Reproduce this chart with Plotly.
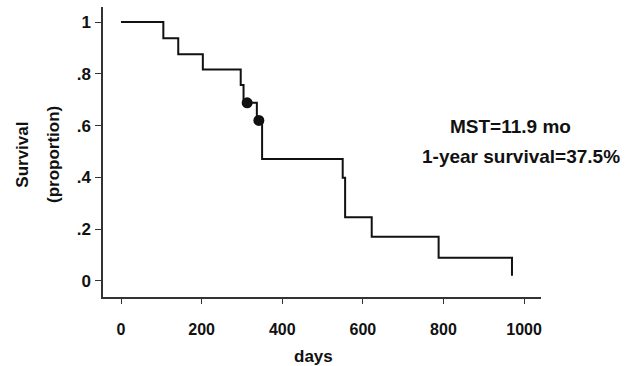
import plotly.graph_objects as go

# Kaplan-Meier step data (days, survival proportion)
times = [0, 105, 142, 203, 297, 304, 337, 350, 550, 556, 622, 788, 970]
survival = [1.0, 0.937, 0.876, 0.817, 0.757, 0.688, 0.62, 0.471, 0.399, 0.246, 0.171, 0.09, 0.02]

# censored observations
censor_times = [313, 342]
censor_surv = [0.688, 0.62]

x_ticks = [0, 200, 400, 600, 800, 1000]
x_ticktext = ["0", "200", "400", "600", "800", "1000"]
y_ticks = [0, 0.2, 0.4, 0.6, 0.8, 1.0]
y_ticktext = ["0", ".2", ".4", ".6", ".8", "1"]

FONT = "Liberation Sans, Arial, Helvetica, sans-serif"
INK = "#111111"

fig = go.Figure()
fig.add_trace(go.Scatter(
    x=times, y=survival, mode="lines", line_shape="hv",
    line=dict(color=INK, width=2), showlegend=False, hoverinfo="skip"))
fig.add_trace(go.Scatter(
    x=censor_times, y=censor_surv, mode="markers",
    marker=dict(color=INK, size=11), showlegend=False))

fig.update_layout(
    width=636, height=366,
    margin=dict(l=103, r=95, t=7, b=69),
    paper_bgcolor="white", plot_bgcolor="white",
    font=dict(family=FONT, color=INK),
    xaxis=dict(range=[-44.7, 1042], tickvals=x_ticks, ticktext=x_ticktext,
               showgrid=False, zeroline=False, showline=True, linecolor="#333",
               linewidth=1.5, ticks="outside", ticklen=5, tickcolor="#333",
               tickfont=dict(size=16, weight="bold", family=FONT, color=INK),
               ticklabelstandoff=12),
    yaxis=dict(range=[-0.062, 1.058], tickvals=y_ticks, ticktext=y_ticktext,
               showgrid=False, zeroline=False, showline=True, linecolor="#333",
               linewidth=1.5, ticks="outside", ticklen=6, tickcolor="#333",
               tickfont=dict(size=17, weight="bold", family=FONT, color=INK),
               ticklabelstandoff=1),
)

ann_font = dict(family=FONT, size=17, weight="bold", color=INK)
fig.add_annotation(text="Survival", xref="paper", yref="paper",
                   x=(21.7 - 103) / 438, y=(297 - 155) / 290, textangle=-90,
                   showarrow=False, font=ann_font, xanchor="center", yanchor="middle")
fig.add_annotation(text="(proportion)", xref="paper", yref="paper",
                   x=(53 - 103) / 438, y=(297 - 155) / 290, textangle=-90,
                   showarrow=False, font=ann_font, xanchor="center", yanchor="middle")
fig.add_annotation(text="days", xref="paper", yref="paper",
                   x=(313 - 103) / 438, y=(297 - 356) / 290,
                   showarrow=False, font=ann_font, xanchor="center", yanchor="middle")
note_font = dict(family=FONT, size=19, weight="bold", color=INK)
fig.add_annotation(text="MST=11.9 mo", xref="paper", yref="paper",
                   x=(510 - 103) / 438, y=(297 - 126.7) / 290,
                   showarrow=False, font=note_font, xanchor="center", yanchor="middle")
fig.add_annotation(text="1-year survival=37.5%", xref="paper", yref="paper",
                   x=(520.5 - 103) / 438, y=(297 - 156.7) / 290,
                   showarrow=False, font=note_font, xanchor="center", yanchor="middle")

fig.write_html("out.html", config={"displayModeBar": False},
               post_script="document.body.style.margin='0';document.body.style.overflow='hidden';")
